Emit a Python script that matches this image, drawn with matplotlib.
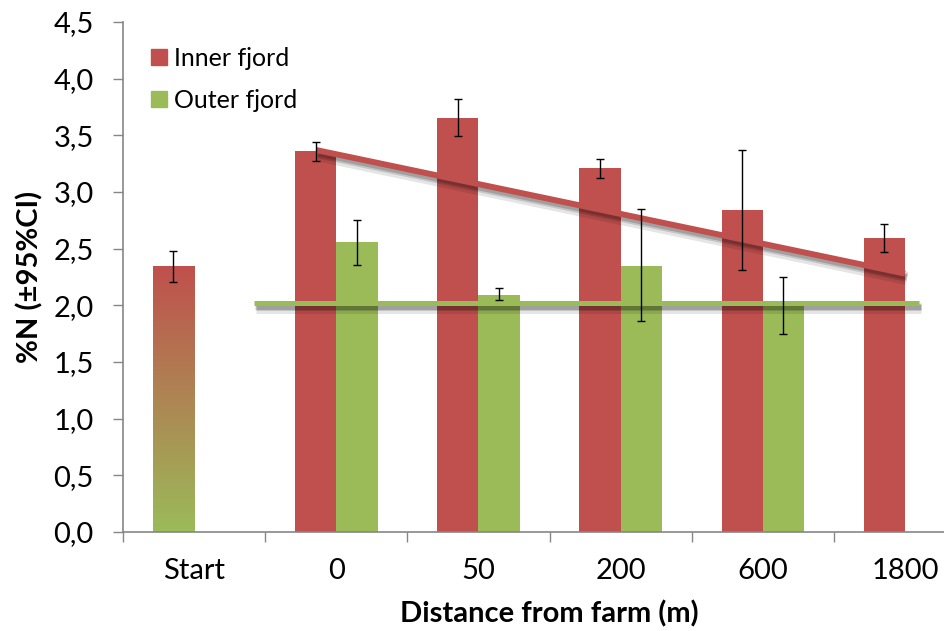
import numpy as np
import matplotlib
matplotlib.use("Agg")
import matplotlib.pyplot as plt
import matplotlib.patheffects as pe
from matplotlib.patches import Patch
from matplotlib.colors import LinearSegmentedColormap

plt.rcParams['font.family'] = ['Lato', 'DejaVu Sans']

categories = ['Start', '0', '50', '200', '600', '1800']
inner = [2.34, 3.36, 3.65, 3.21, 2.84, 2.59]
inner_lo = [2.21, 3.27, 3.49, 3.12, 2.31, 2.47]
inner_hi = [2.48, 3.44, 3.82, 3.29, 3.37, 2.72]
outer = [np.nan, 2.56, 2.09, 2.35, 2.00, np.nan]
outer_lo = [np.nan, 2.36, 2.05, 1.86, 1.75, np.nan]
outer_hi = [np.nan, 2.75, 2.15, 2.85, 2.25, np.nan]
inner_trend_x = [0.86, 5.0]
inner_trend_y = [3.37, 2.28]
outer_trend_x = [0.42, 5.10]
outer_trend_y = [2.02, 2.02]

RED = '#C0504D'
GREEN = '#9BBB59'
GRAY = '#868686'

fig = plt.figure(figsize=(9.44, 6.31), dpi=100)
ax = fig.add_axes([123/944, (631-532)/631, (944-123)/944, (532-22)/631])

x = np.arange(len(categories))
w = 0.29
xi = x - w/2
xo = x + w/2

# inner bars (Start drawn with gradient)
ax.bar(xi[1:], inner[1:], width=w, color=RED, zorder=2)
grad = np.linspace(1, 0, 256).reshape(-1, 1)
cmap = LinearSegmentedColormap.from_list('rg', [GREEN, RED])
ax.imshow(grad, extent=[xi[0]-w/2, xi[0]+w/2, 0, inner[0]], aspect='auto',
          cmap=cmap, vmin=0, vmax=1, zorder=2, origin='upper')
ax.bar(xo, outer, width=w, color=GREEN, zorder=2)

# trend lines with soft shadow
def shadow(lw):
    return [pe.SimpleLineShadow(offset=(1.5, -3.5), shadow_color='black', alpha=0.10, linewidth=lw*2.2),
            pe.SimpleLineShadow(offset=(1.5, -3), shadow_color='black', alpha=0.14, linewidth=lw*1.4),
            pe.SimpleLineShadow(offset=(1, -2.5), shadow_color='black', alpha=0.18, linewidth=lw),
            pe.Normal()]
ax.plot(inner_trend_x, inner_trend_y, color=RED, lw=4.3, zorder=3,
        solid_capstyle='butt', path_effects=shadow(4.3))
ax.plot(outer_trend_x, outer_trend_y, color=GREEN, lw=3.6, zorder=3,
        solid_capstyle='butt', path_effects=shadow(3.6))

# error bars
inner_a = np.array(inner)
outer_a = np.array(outer)
ax.errorbar(xi, inner_a,
            yerr=[inner_a - np.array(inner_lo), np.array(inner_hi) - inner_a],
            fmt='none', ecolor='black', elinewidth=1, capsize=3, capthick=1, zorder=4)
ax.errorbar(xo, outer_a,
            yerr=[outer_a - np.array(outer_lo), np.array(outer_hi) - outer_a],
            fmt='none', ecolor='black', elinewidth=1, capsize=3, capthick=1, zorder=4)

ax.set_xlim(-0.5, (944-194)/142.2)
ax.set_ylim(0, 4.5)

yt = np.arange(0, 4.51, 0.5)
ax.set_yticks(yt)
ax.set_yticklabels([f"{v:.1f}".replace('.', ',') for v in yt], fontsize=21)
ax.tick_params(axis='y', length=7, width=1, color=GRAY, pad=14)

ax.set_xticks(np.arange(-0.5, 5.0, 1.0))
ax.set_xticklabels([])
ax.tick_params(axis='x', which='major', length=7, width=1, color=GRAY)
ax.set_xticks(x, minor=True)
ax.set_xticklabels(categories, minor=True, fontsize=21)
ax.tick_params(axis='x', which='minor', length=0, pad=19)

for s in ['top', 'right']:
    ax.spines[s].set_visible(False)
for s in ['left', 'bottom']:
    ax.spines[s].set_color(GRAY)
    ax.spines[s].set_linewidth(1.2)

ax.set_ylabel('%N (±95%CI)', fontsize=21, fontweight='bold')
ax.yaxis.set_label_coords(-0.097, 0.5)
fig.text(549/944, 1 - 600/631, 'Distance from farm (m)', fontsize=21, fontweight='bold',
         ha='center', va='top')

handles = [Patch(color=RED, label='Inner fjord'), Patch(color=GREEN, label='Outer fjord')]
leg = ax.legend(handles=handles, loc='upper left', bbox_to_anchor=(151/944, 1-47/631),
                bbox_transform=fig.transFigure, frameon=False, fontsize=18,
                handlelength=0.62, handleheight=0.62, handletextpad=0.3, labelspacing=0.76,
                borderaxespad=0, borderpad=0)

fig.savefig('out.png', dpi=100)
